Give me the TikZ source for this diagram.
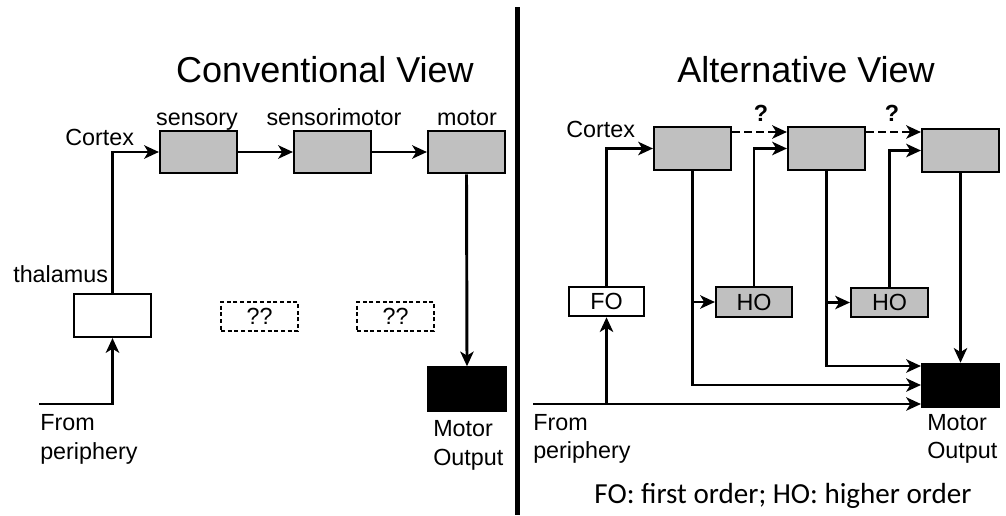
\documentclass[tikz,border=0pt]{standalone}
\usepackage{fontspec}
\setmainfont{Liberation Sans}
\newfontfamily\calib{Carlito}
\usetikzlibrary{arrows.meta,calc}
\definecolor{boxgray}{HTML}{C0C0C0}
\tikzset{
  blk/.style={draw=black,line width=1.6pt,inner sep=0pt,minimum width=57.75pt,minimum height=32pt},
  graybox/.style={blk,fill=boxgray},
  whitebox/.style={blk,fill=white},
  qbox/.style={blk,dashed,dash pattern=on 3pt off 2pt,line width=1.3pt,minimum height=21.75pt,font=\fontsize{17.5}{21}\selectfont},
  smallbox/.style={blk,minimum height=22pt,font=\fontsize{17.5}{21}\selectfont},
  outbox/.style={blk,fill=black,minimum height=32.5pt},
  conn/.style={line width=2.2pt,-{Stealth[length=11pt,width=10pt,inset=3pt]}},
  lbl/.style={inner sep=0pt,font=\fontsize{17.5}{21}\selectfont},
  ttl/.style={inner sep=0pt,anchor=base,font=\fontsize{27}{32}\selectfont}
}
\begin{document}
\begin{tikzpicture}[x=0.75pt,y=-0.75pt]
\useasboundingbox (0,0) rectangle (1006,515);
% divider
\draw[line width=3.75pt] (517.5,7) -- (517.5,515);
% titles
\node[ttl] (t1) at (325,82) {Conventional View};
\node[ttl] (t2) at (806,82) {Alternative View};

%% Left panel
\node[graybox] (sens) at (198.5,152) {};
\node[graybox] (smot) at (332.5,152) {};
\node[graybox] (mot) at (466.5,152) {};
\node[whitebox,minimum height=32.25pt] (thal) at (112.5,315.5) {};
\node[qbox,minimum width=57.75pt] (q1) at (259.5,316.5) {??};
\node[qbox,minimum width=57.75pt] (q2) at (395.5,316.5) {??};
\node[outbox,minimum width=58.5pt] (mout) at (467,389) {};

\node[lbl,anchor=base] (lsens) at (197,125) {sensory};
\node[lbl,anchor=base] (lsmot) at (334,125) {sensorimotor};
\node[lbl,anchor=base] (lmot) at (467,125) {motor};
\node[lbl,anchor=base west] (lcortex) at (65,145) {Cortex};
\node[lbl,anchor=base west] (lthal) at (13,282) {thalamus};
\node[lbl,anchor=base west] (lfrom) at (40,430) {From};
\node[lbl,anchor=base west] (lperi) at (40,459) {periphery};
\node[lbl,anchor=base west] (lmo) at (433,436) {Motor};
\node[lbl,anchor=base west] (lout) at (433,465) {Output};

\coordinate (pl) at (39,404);
\draw[conn] (pl) -| (thal.south);
\draw[conn] (thal.north) |- (sens.west);
\draw[conn] (sens.east) -- (smot.west);
\draw[conn] (smot.east) -- (mot.west);
\draw[conn] (mot.south) -- (mout.north);

%% Right panel
\node[graybox] (b1) at (692.5,148.5) {};
\node[graybox] (b2) at (826.5,148.5) {};
\node[graybox] (b3) at (960.5,150.5) {};
\node[smallbox,fill=white,minimum width=56.25pt] (fo) at (606.5,301.5) {FO};
\node[smallbox,fill=boxgray,minimum width=57pt] (ho1) at (754,302) {HO};
\node[smallbox,fill=boxgray,minimum width=57.75pt] (ho2) at (889.5,302.5) {HO};
\node[outbox,minimum width=57.75pt] (mout2) at (960.5,385.5) {};

\node[lbl,anchor=base west] (rcortex) at (566,137) {Cortex};
\node[lbl,anchor=base,font=\fontsize{17.5}{21}\selectfont\bfseries] (qa) at (761,121) {?};
\node[lbl,anchor=base,font=\fontsize{17.5}{21}\selectfont\bfseries] (qb) at (892,121) {?};
\node[lbl,anchor=base west] (rfrom) at (533,430) {From};
\node[lbl,anchor=base west] (rperi) at (533,458) {periphery};
\node[lbl,anchor=base west] (rmo) at (927,430) {Motor};
\node[lbl,anchor=base west] (rout) at (927,458) {Output};
\node[inner sep=0pt,anchor=base,font=\calib\fontsize{21.8}{26}\selectfont] (foot) at (783,503) {FO: first order; HO: higher order};

% dashed arrows
\draw[conn,dashed,dash pattern=on 6pt off 3pt] (b1.east |- 0,132) -- (b2.west |- 0,132);
\draw[conn,dashed,dash pattern=on 6pt off 3pt] (b2.east |- 0,132) -- (b3.west |- 0,132);
% FO / HO to cortex
\draw[conn] (fo.north) |- (b1.west);
\draw[conn] (ho1.north) |- (b2.west);
\draw[conn] (ho2.north) |- (b3.west);
% cortex to HO and motor output
\draw[conn] (b1.south) -- (b1.south |- 0,385) -- (mout2.west |- 0,385);
\draw[conn] (b1.south |- ho1.west) -- (ho1.west);
\draw[conn] (b2.south) -- (b2.south |- 0,366) -- (mout2.west |- 0,366);
\draw[conn] (b2.south |- ho2.west) -- (ho2.west);
\draw[conn] (b3.south) -- (mout2.north);
% periphery
\coordinate (pr) at (533,404);
\draw[conn] (pr) -- (mout2.west |- pr);
\draw[conn] (fo.south |- pr) -- (fo.south);
\end{tikzpicture}
\end{document}
